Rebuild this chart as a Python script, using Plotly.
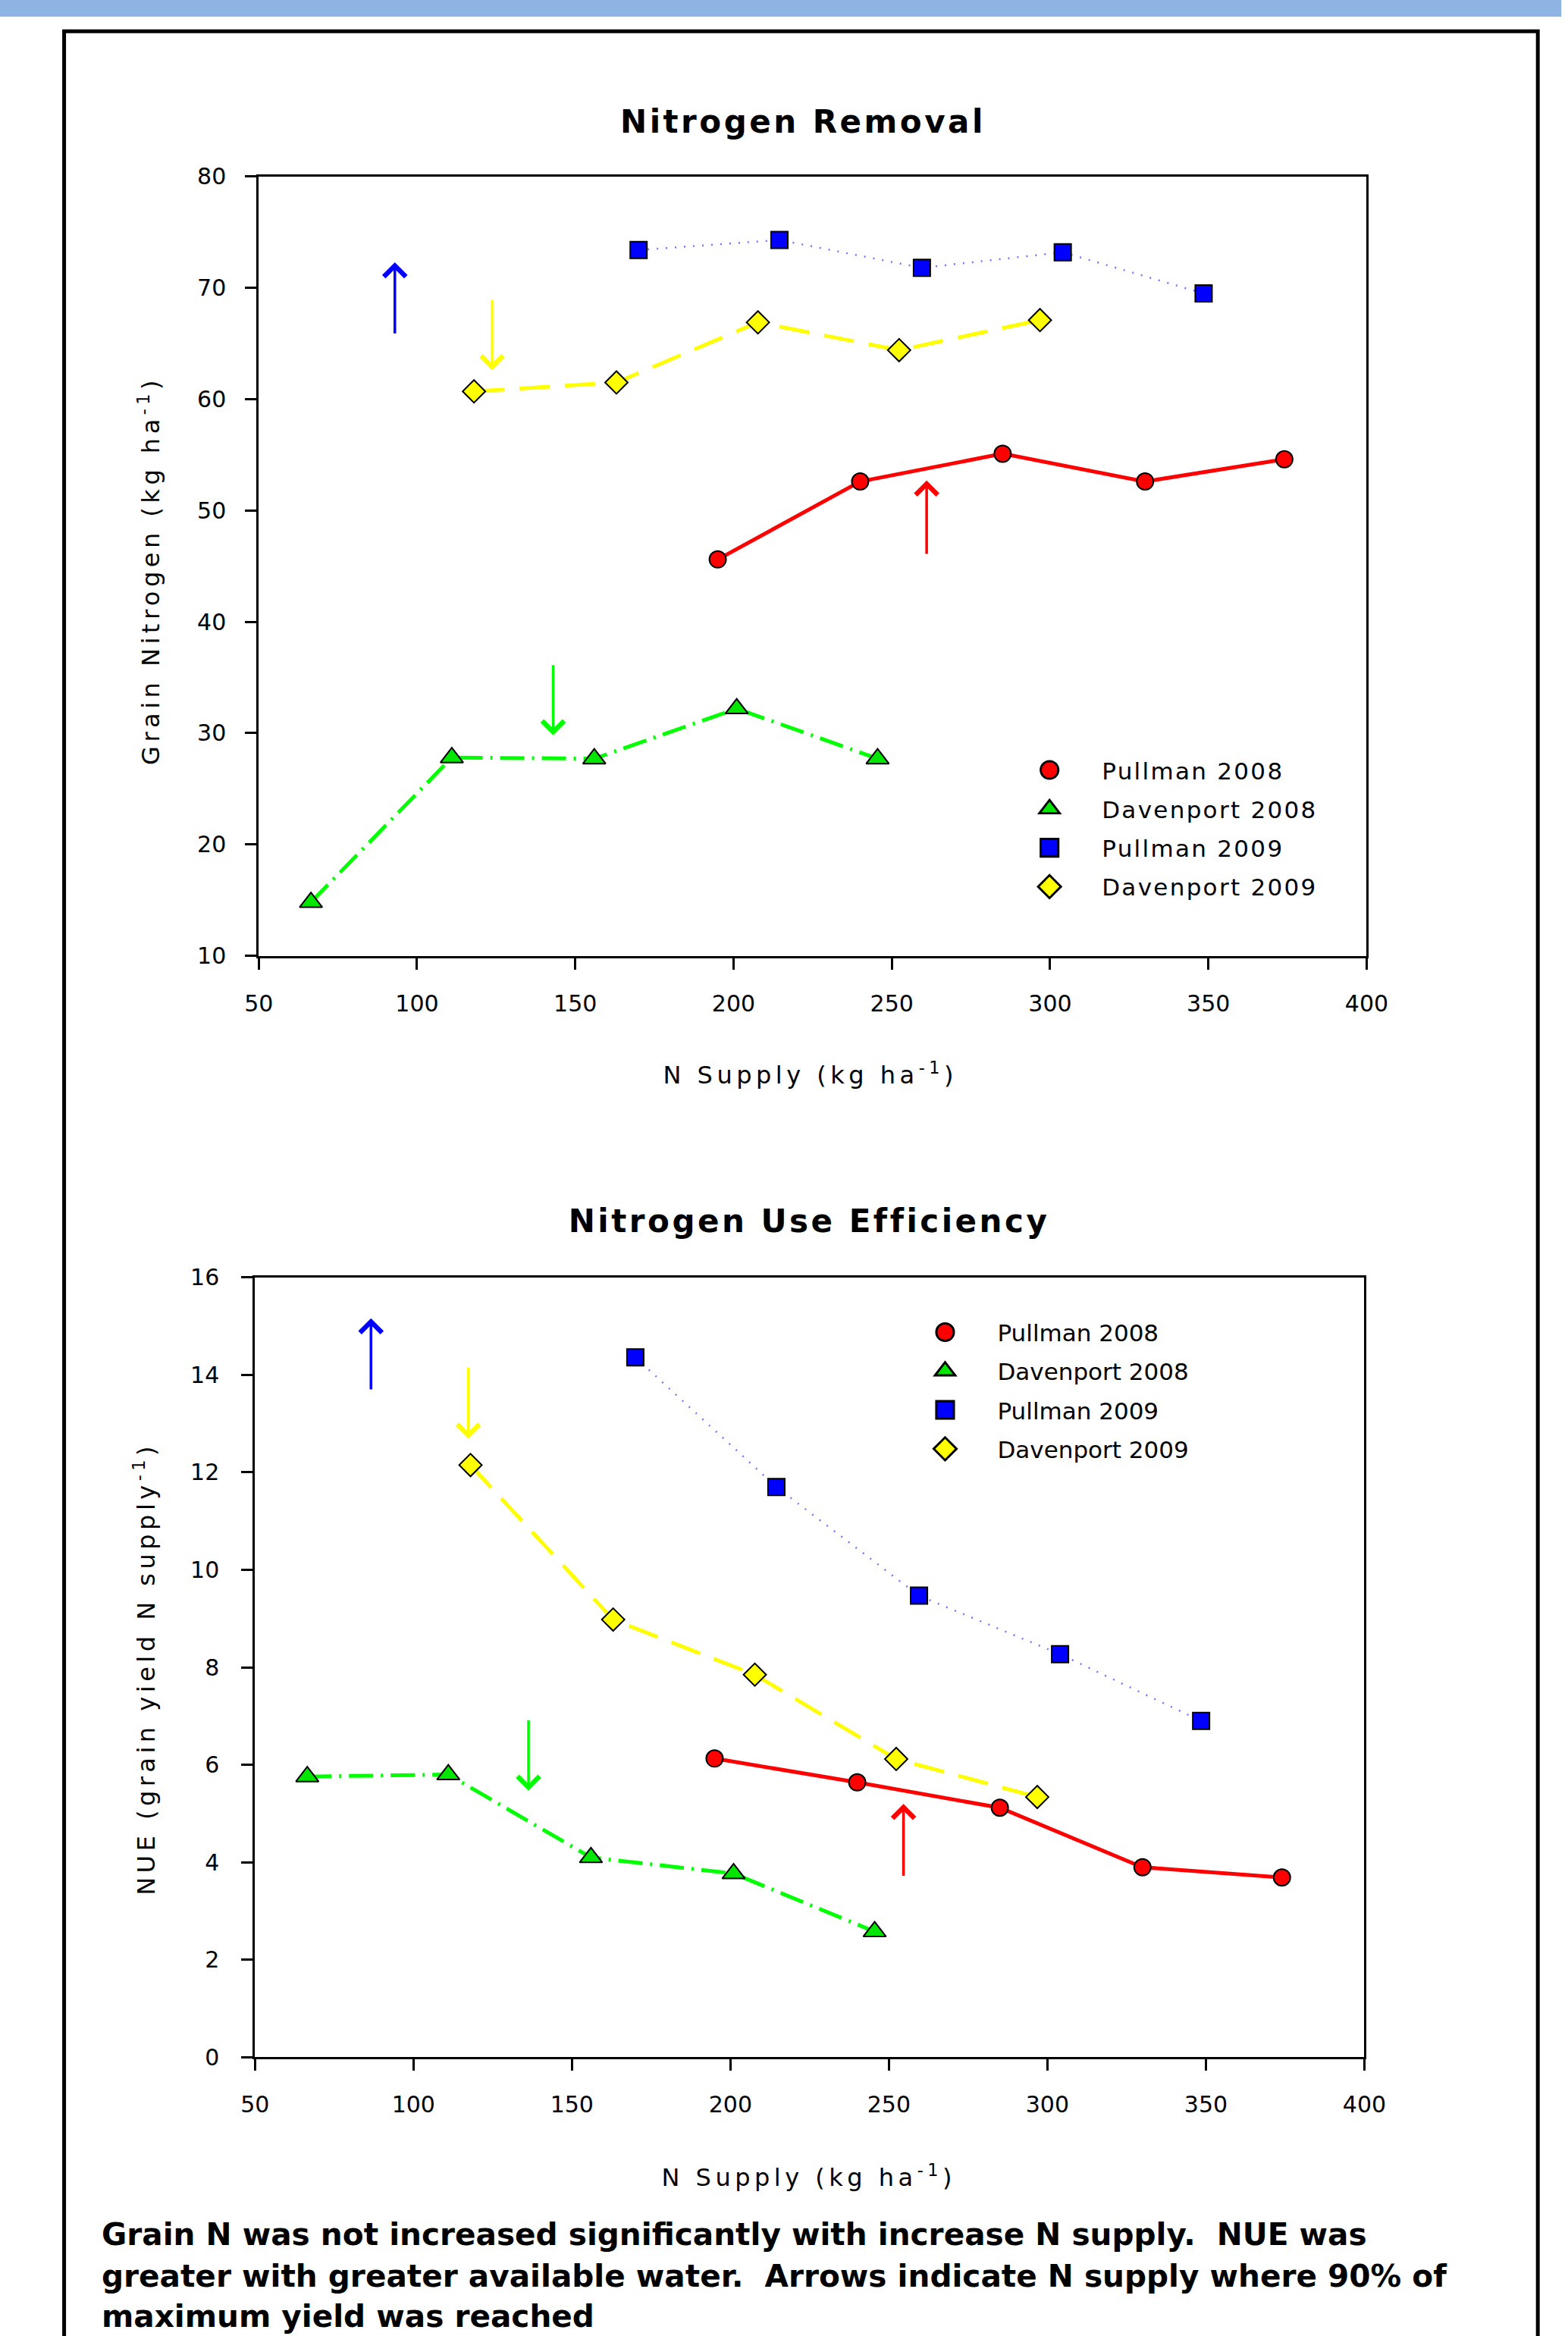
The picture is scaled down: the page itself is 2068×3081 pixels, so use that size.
import plotly.graph_objects as go

W, H = 2068, 3081
FONT = "DejaVu Sans"

# The captured picture maps page pixels as: pic = S * page + O  (measured from earlier renders).
# Positions below are given in reference-picture pixels and converted with this mapping.
SX, OX = 0.980, 14.7
SY, OY = 0.988, 17.3

# ---------------- data ----------------
series_names = ["Pullman 2008", "Davenport 2008", "Pullman 2009", "Davenport 2009"]

n_supply_pullman_2008 = [195, 240, 285, 330, 374]
grain_n_pullman_2008 = [45.6, 52.6, 55.1, 52.6, 54.6]
nue_pullman_2008 = [6.13, 5.64, 5.12, 3.90, 3.69]

n_supply_davenport_2008 = [66.5, 111, 156, 201, 245.5]
grain_n_davenport_2008 = [14.8, 27.8, 27.7, 32.2, 27.7]
nue_davenport_2008 = [5.76, 5.80, 4.10, 3.77, 2.58]

n_supply_pullman_2009 = [170, 214.5, 259.5, 304, 348.5]
grain_n_pullman_2009 = [73.4, 74.3, 71.8, 73.2, 69.5]
nue_pullman_2009 = [14.36, 11.70, 9.47, 8.27, 6.90]

n_supply_davenport_2009 = [118, 163, 207.7, 252.3, 296.8]
grain_n_davenport_2009 = [60.7, 61.5, 66.9, 64.4, 67.1]
nue_davenport_2009 = [12.15, 8.98, 7.85, 6.12, 5.34]

# arrows: N supply where 90% of max yield reached (x, tail y, head y)
arrow_x_removal = [261, 143, 93, 123.7]
arrow_tail_removal = [46.0, 36.2, 65.8, 69.0]
arrow_head_removal = [52.7, 29.8, 72.3, 62.6]

arrow_x_nue = [254.6, 136.3, 86.6, 117.3]
arrow_tail_nue = [3.70, 6.94, 13.68, 14.17]
arrow_head_nue = [5.20, 5.47, 15.16, 12.69]

x_ticks = [50, 100, 150, 200, 250, 300, 350, 400]
y_ticks_removal = [10, 20, 30, 40, 50, 60, 70, 80]
y_ticks_nue = [0, 2, 4, 6, 8, 10, 12, 14, 16]

caption_lines = [
    "Grain N was not increased significantly with increase N supply.  NUE was",
    "greater with greater available water.  Arrows indicate N supply where 90% of",
    "maximum yield was reached",
]

# ---------------- styles ----------------
line_colors = ["#FF0000", "#00FF00", "#7878FF", "#FFFF00"]
marker_colors = ["#FF0000", "#00E600", "#0000FF", "#FFFF00"]
arrow_colors = ["#FF0000", "#00FF00", "#0000FF", "#FFFF00"]
symbols = ["circle", "triangle-up", "square", "diamond"]
msizes = [22, 26, 22, 23]
dashes = ["solid", "32px,10px,3px,10px", "2px,10px", "40px,20px"]
lwidths = [5, 5, 2.5, 5]

xs = [n_supply_pullman_2008, n_supply_davenport_2008, n_supply_pullman_2009, n_supply_davenport_2009]
ys_top = [grain_n_pullman_2008, grain_n_davenport_2008, grain_n_pullman_2009, grain_n_davenport_2009]
ys_bot = [nue_pullman_2008, nue_davenport_2008, nue_pullman_2009, nue_davenport_2009]


def fx(ref):  # reference-picture x -> paper x
    return ((ref - OX) / SX) / W


def fy(ref):  # reference-picture y -> paper y
    return 1 - ((ref - OY) / SY) / H


def pgx(p):  # page x -> paper
    return p / W


def pgy(p):  # page y -> paper
    return 1 - p / H


fig = go.Figure()

for ys, xa, ya, leg in [(ys_top, "x", "y", "legend"), (ys_bot, "x2", "y2", "legend2")]:
    for i in range(4):
        fig.add_trace(go.Scatter(
            x=xs[i], y=ys[i], xaxis=xa, yaxis=ya, mode="lines",
            line=dict(color=line_colors[i], width=lwidths[i], dash=dashes[i]),
            showlegend=False, hoverinfo="skip", name=series_names[i]))
    for i in range(4):
        fig.add_trace(go.Scatter(
            x=xs[i], y=ys[i], xaxis=xa, yaxis=ya, mode="markers",
            marker=dict(symbol=symbols[i], size=msizes[i], color=marker_colors[i],
                        line=dict(color="black", width=2)),
            name=series_names[i], legend=leg, legendgroup=f"{leg}{i}", showlegend=True))

annotations = []
for i in range(4):
    annotations.append(dict(
        x=arrow_x_removal[i], y=arrow_head_removal[i], ax=arrow_x_removal[i], ay=arrow_tail_removal[i],
        xref="x", yref="y", axref="x", ayref="y", text="", showarrow=True,
        arrowhead=4, arrowsize=1.6, arrowwidth=3.5, arrowcolor=arrow_colors[i]))
    annotations.append(dict(
        x=arrow_x_nue[i], y=arrow_head_nue[i], ax=arrow_x_nue[i], ay=arrow_tail_nue[i],
        xref="x2", yref="y2", axref="x2", ayref="y2", text="", showarrow=True,
        arrowhead=4, arrowsize=1.6, arrowwidth=3.5, arrowcolor=arrow_colors[i]))

tick_font = dict(family=FONT, size=30, color="black")
axis_title_font = dict(family=FONT, size=32, color="black")
title_font = dict(family=FONT, size=42, color="black")


def ann(text, x, y, font, **kw):
    d = dict(text=text, x=x, y=y, xref="paper", yref="paper", showarrow=False,
             xanchor="center", yanchor="middle", font=font)
    d.update(kw)
    return d


# panel titles
annotations.append(ann("<b>Nitrogen Removal</b>", fx(1058), fy(161), title_font))
annotations.append(ann("<b>Nitrogen Use Efficiency</b>", fx(1066), fy(1610), title_font))
# axis titles
annotations.append(ann("N Supply (kg ha<sup>-1</sup>)", fx(1068), fy(1415), axis_title_font))
annotations.append(ann("N Supply (kg ha<sup>-1</sup>)", fx(1066), fy(2868), axis_title_font))
annotations.append(ann("Grain Nitrogen (kg ha<sup>-1</sup>)", fx(193), fy(752), axis_title_font, textangle=-90))
annotations.append(ann("NUE (grain yield N supply<sup>-1</sup>)", fx(187), fy(2200), axis_title_font, textangle=-90))
# caption (last line runs into the bottom edge, as in the original)
caption_y_page = [2964, 3019, 3073]
for k, line in enumerate(caption_lines):
    annotations.append(ann(f"<b>{line}</b>", pgx(116), pgy(caption_y_page[k]),
                           dict(family=FONT, size=40.6, color="black"), xanchor="left"))

axis_common = dict(showline=True, linecolor="black", linewidth=3, mirror=True, ticks="outside",
                   ticklen=15, tickwidth=3, tickcolor="black", showgrid=False, zeroline=False,
                   tickfont=tick_font)

shapes = [
    dict(type="rect", xref="paper", yref="paper", x0=-0.01, x1=1.01, y0=pgy(5), y1=1.01,
         fillcolor="#8EB4E3", line=dict(width=0), layer="below"),
    dict(type="rect", xref="paper", yref="paper", x0=fx(80.5), x1=fx(2030.5), y0=-0.05, y1=fy(41.5),
         line=dict(color="black", width=5), fillcolor="rgba(0,0,0,0)", layer="above"),
]

legend_common = dict(xanchor="left", yanchor="top", bgcolor="rgba(0,0,0,0)",
                     font=dict(family=FONT, size=31, color="black"), itemwidth=128, tracegroupgap=8)

fig.update_layout(
    width=W, height=H, margin=dict(l=0, r=0, t=0, b=0),
    paper_bgcolor="white", plot_bgcolor="white",
    font=tick_font,
    xaxis=dict(domain=[fx(338), fx(1804)], range=[50, 400], tickvals=x_ticks, anchor="y",
               ticklabelstandoff=19, **axis_common),
    yaxis=dict(domain=[fy(1260), fy(233)], range=[10, 80], tickvals=y_ticks_removal, anchor="x",
               ticklabelstandoff=19, **axis_common),
    xaxis2=dict(domain=[fx(333), fx(1801)], range=[50, 400], tickvals=x_ticks, anchor="y2",
                ticklabelstandoff=19, **axis_common),
    yaxis2=dict(domain=[fy(2712), fy(1684)], range=[0, 16], tickvals=y_ticks_nue, anchor="x2",
                ticklabelstandoff=23, **axis_common),
    legend=dict(x=pgx(1327), y=pgy(983), **legend_common),
    legend2=dict(x=pgx(1186), y=pgy(1733), **legend_common),
    annotations=annotations,
    shapes=shapes,
)

# page without body margin; widen letter spacing as in the original typography; enlarge legend symbols;
# drop the empty text nodes that plotly creates for the arrow-only annotations
post = """
document.body.style.margin = '0';
document.documentElement.style.overflow = 'hidden';
var gd = document.querySelector('.plotly-graph-div');
function fix(){
  gd.querySelectorAll('.annotation-text').forEach(function(t){
    var s = t.textContent;
    if (!s) { var g = t.closest('.annotation-text-g'); (g || t).remove(); return; }
    if (s.indexOf('Nitrogen R') === 0 || s.indexOf('Nitrogen U') === 0) t.style.letterSpacing = '3.5px';
    else if (s.indexOf('N Supply') === 0 || s.indexOf('Grain Nitrogen') === 0 || s.indexOf('NUE (') === 0) t.style.letterSpacing = '5.5px';
  });
  gd.querySelectorAll('.legendtext').forEach(function(t){ t.style.letterSpacing = '2.3px'; });
  gd.querySelectorAll('.infolayer .scrollbox, .infolayer .scrollbox [clip-path]').forEach(function(e){ e.removeAttribute('clip-path'); });
  gd.querySelectorAll('.legendpoints path.scatterpts').forEach(function(p){
    var tr = p.getAttribute('transform') || '';
    if (tr.indexOf('scale') < 0) p.setAttribute('transform', tr + ' scale(1.45)');
  });
}
fix();
gd.on('plotly_afterplot', fix);
"""

fig.write_html("out.html", post_script=post, config=dict(displayModeBar=False))
